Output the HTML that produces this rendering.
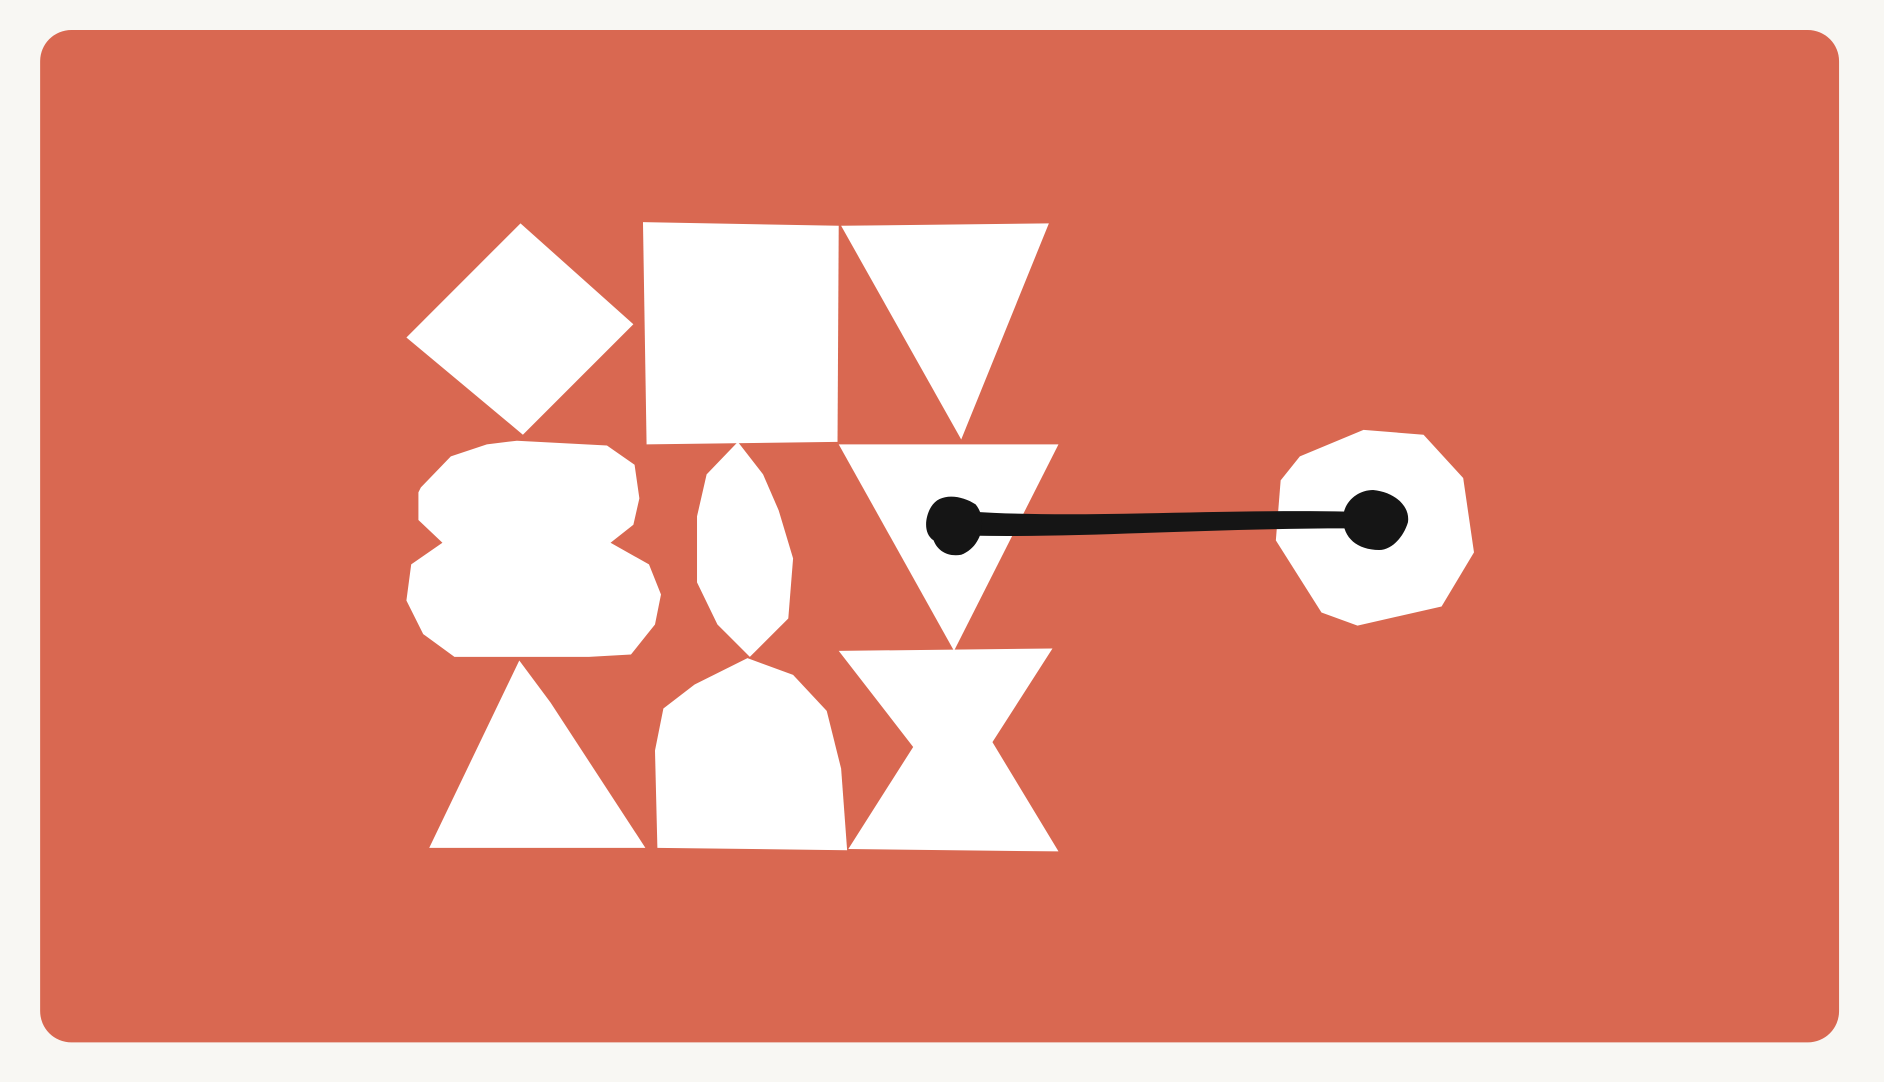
<!DOCTYPE html>
<html><head><meta charset="utf-8"><style>
html,body{margin:0;padding:0;background:#f8f7f3;}
svg{display:block;}
</style></head><body>
<svg width="1884" height="1082" viewBox="0 0 1568 901" xmlns="http://www.w3.org/2000/svg">
<rect x="0" y="0" width="1568" height="901" fill="#f8f7f3"/>
<rect x="33" y="25" width="1498" height="843" rx="26" fill="#d96851"/>
<g fill="#ffffff">
<polygon points="433,186 527,270 435,362 338,281"/>
<polygon points="535,185 698,188 697,368 538,370"/>
<polygon points="700,188 873,186 800,366"/>
<polygon points="350,406 375,380 405,370 430,367 505,371 528,387 532,415 527,437 508,452 540,470 550,495 545,520 525,545 490,547 378,547 352,528 338,500 342,470 368,452 348,433 348,410"/>
<polygon points="614,368 635,395 648,425 660,465 656,515 624,547 597,520 580,485 580,430 588,395"/>
<polygon points="698,370 881,370 794,542"/>
<polygon points="357,706 432,550 458,585 537,706"/>
<polygon points="547,706 545,625 552,590 578,570 622,548 660,562 688,592 700,640 705,708"/>
<polygon points="698,542 876,540 826,618 881,709 706,707 760,622"/>
<polygon points="1082,380 1135,358 1185,362 1218,398 1227,460 1200,505 1130,521 1100,510 1062,450 1066,400"/>
</g>
<g fill="#151515">
<path d="M808,426 C900,432 1000,424 1122,426 L1122,440 C1000,440 900,448 808,446 Z"/>
<path d="M775,422 C782,410 800,412 812,420 C822,432 818,455 800,462 C788,464 780,458 777,450 C768,444 770,430 775,422 Z"/>
<path d="M1118,432 C1118,418 1130,408 1143,408 C1162,410 1174,422 1172,435 C1168,448 1158,458 1148,458 C1130,458 1118,448 1118,432 Z"/>
</g>
</svg>
</body></html>
